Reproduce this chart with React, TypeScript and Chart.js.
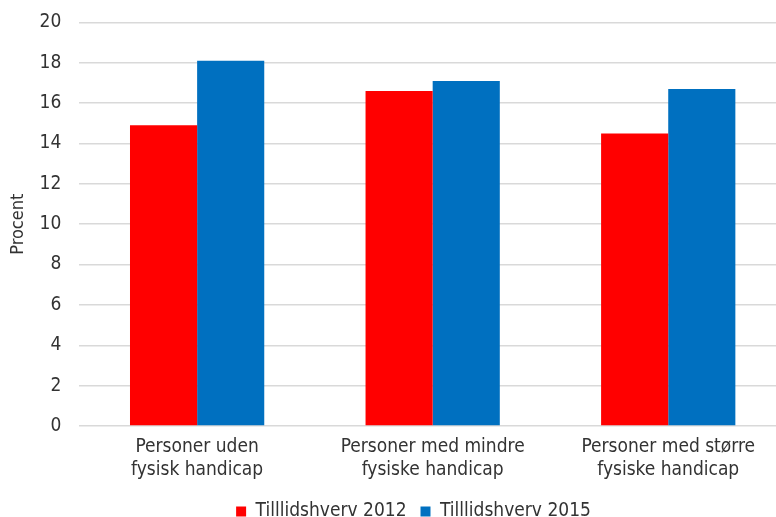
import React, { useEffect, useRef } from "react";
import { Chart, registerables } from "chart.js";

Chart.register(...registerables);

const categories = [
  ["Personer uden", "fysisk handicap"],
  ["Personer med mindre", "fysiske handicap"],
  ["Personer med større", "fysiske handicap"],
];
const series2012 = [14.9, 16.6, 14.5];
const series2015 = [18.1, 17.1, 16.7];
const seriesLabels = ["Tilllidshverv 2012", "Tilllidshverv 2015"];
const yTicks = [0, 2, 4, 6, 8, 10, 12, 14, 16, 18, 20];

const FONT = "'Liberation Sans Narrow', 'DejaVu Sans Condensed', 'Roboto', sans-serif";

const legendShift = {
  id: "legendShift",
  afterLayout(chart: any) {
    const lg = chart.legend;
    if (lg) {
      lg.left += 23;
      lg.right += 23;
    }
  },
};

export default function App() {
  const ref = useRef<HTMLCanvasElement | null>(null);
  useEffect(() => {
    if (!ref.current) return;
    const chart = new Chart(ref.current, {
      type: "bar",
      data: {
        labels: categories,
        datasets: [
          { label: seriesLabels[0], data: series2012, backgroundColor: "#ff0000", borderWidth: 0 },
          { label: seriesLabels[1], data: series2015, backgroundColor: "#0070c0", borderWidth: 0 },
        ],
      },
      plugins: [legendShift],
      options: {
        animation: false,
        responsive: false,
        maintainAspectRatio: false,
        layout: { padding: { top: 0, right: 0, left: -5, bottom: 0 } },
        datasets: { bar: { categoryPercentage: 0.57, barPercentage: 1.0 } },
        plugins: {
          tooltip: { enabled: false },
          legend: {
            position: "bottom",
            labels: {
              boxWidth: 10,
              boxHeight: 10,
              padding: 14,
              color: "#333",
              font: { family: FONT, size: 19 },
            },
          },
        },
        scales: {
          x: {
            grid: { display: false },
            border: { display: false },
            ticks: { color: "#333", font: { family: FONT, size: 19 }, padding: 2, maxRotation: 0 },
            afterFit: (axis: any) => {
              axis.height = 62;
            },
          },
          y: {
            min: 0,
            max: 20,
            afterBuildTicks: (axis: any) => {
              axis.ticks = yTicks.map((v) => ({ value: v }));
            },
            grid: { color: "#d9d9d9", lineWidth: 1.5, drawTicks: false },
            border: { display: false },
            ticks: { color: "#333", font: { family: FONT, size: 19 }, padding: 18 },
            title: {
              display: true,
              text: "Procent",
              color: "#333",
              font: { family: FONT, size: 18 },
              padding: { top: 13, bottom: -8 },
            },
          },
        },
      },
    });
    return () => chart.destroy();
  }, []);
  return (
    <div style={{ position: "fixed", left: 0, top: 0, width: 776, height: 517, overflow: "hidden", background: "#fff" }}>
      <canvas ref={ref} width={786} height={538} style={{ display: "block", width: 786, height: 538, marginTop: -7 }} />
    </div>
  );
}
